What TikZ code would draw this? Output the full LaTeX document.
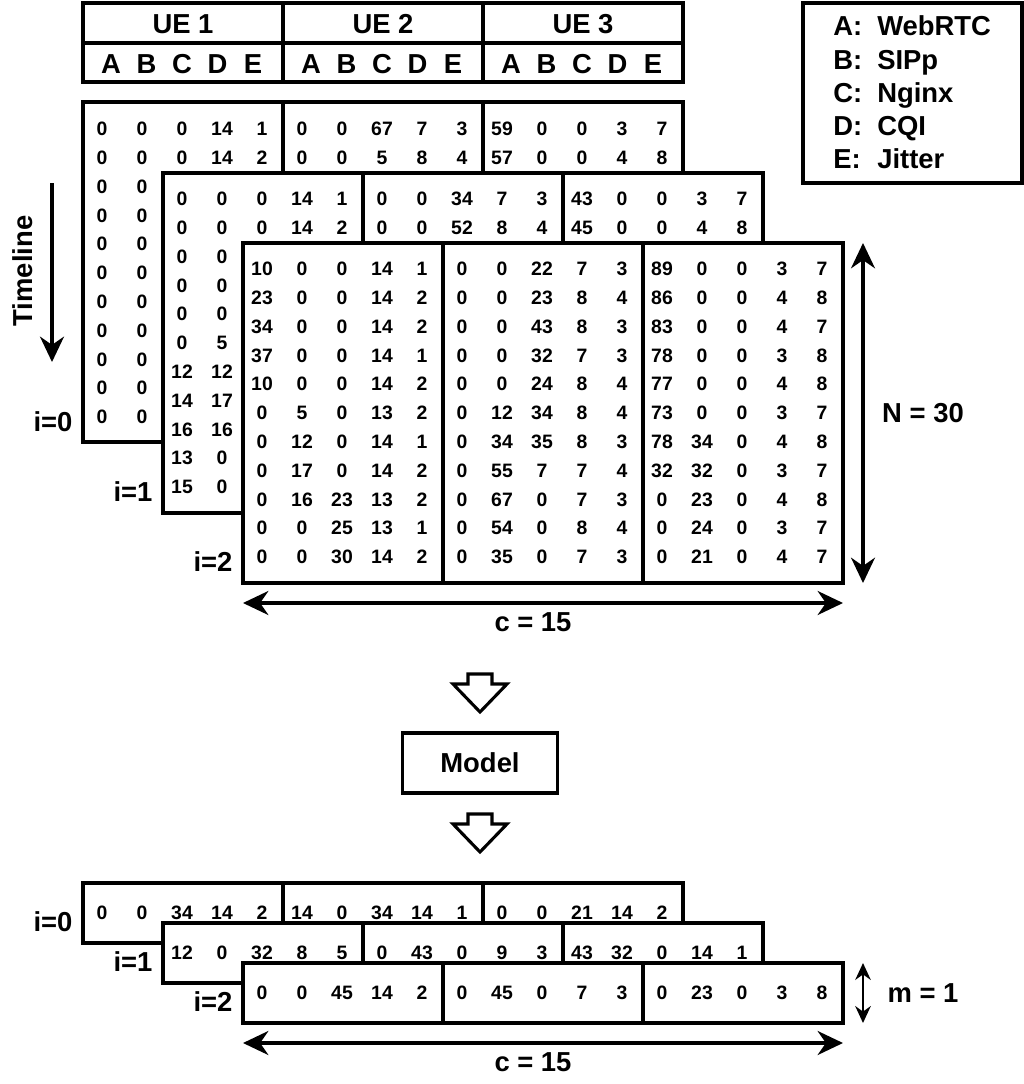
\documentclass[tikz,border=0pt]{standalone}
\usepackage{fontspec}
\setmainfont{Liberation Sans}
\usetikzlibrary{arrows.meta}

% rows of cell values, columns 40px apart
\newcommand\matrows[4]{%
  \foreach \rw [count=\ri] in {#4}
    \foreach \val [count=\ci] in \rw
      \node[num] (#1-\ri-\ci) at ({#2+40*(\ci-1)},{#3+28.8*(\ri-1)}) {\val};}
% white sheet split into the three UE blocks
\newcommand\sheet[3]{%
  \draw[box,fill=white] (#1,#2) rectangle ++(600,#3);
  \draw[box] ({#1+200},#2) -- ++(0,#3);
  \draw[box] ({#1+400},#2) -- ++(0,#3);}

\begin{document}
\begin{tikzpicture}[x=0.025cm,y=-0.025cm,
    box/.style={line width=2.8pt},
    num/.style={font=\fontsize{13.8}{16}\selectfont\bfseries,inner sep=0pt},
    lbl/.style={font=\fontsize{19.5}{23}\selectfont\bfseries},
    dim/.style={line width=2.6pt,{Stealth[length=18pt,width=17pt]}-{Stealth[length=18pt,width=17pt]}},
    hollowarrow/.pic={\draw[line width=2.2pt,fill=white] (-12,0) -- (12,0) -- (12,10) -- (27,10) -- (0,38) -- (-27,10) -- (-12,10) -- cycle;}]
  \useasboundingbox (0,0) rectangle (1024,1084);

  % header
  \sheet{83}{3}{79}
  \draw[box] (83,43) -- (683,43);
  \foreach \u in {1,2,3}
    \node[lbl] (ue\u) at ({183+200*(\u-1)},24) {UE \u};
  \foreach \u in {0,1,2}
    \foreach \l [count=\k] in {A,B,C,D,E}
      \node[lbl,inner sep=0pt] (h\u-\k) at ({111+200*\u+35.5*(\k-1)},64) {\l};

  % legend
  \draw[box] (803,3) rectangle (1022,183);
  \foreach \l/\t [count=\k] in {A/WebRTC,B/SIPp,C/Nginx,D/CQI,E/Jitter} {
    \node[lbl,anchor=base west,inner sep=0pt] (key\k) at (833,{36+33.2*(\k-1)}) {\l:};
    \node[lbl,anchor=base west,inner sep=0pt] (val\k) at (877,{36+33.2*(\k-1)}) {\t};
  }

  % input windows
  \sheet{83}{102}{340}
  \matrows{a}{102}{129}{{0,0,0,14,1,0,0,67,7,3,59,0,0,3,7},
    {0,0,0,14,2,0,0,5,8,4,57,0,0,4,8},
    {0,0},{0,0},{0,0},{0,0},{0,0},{0,0},{0,0},{0,0},{0,0}}
  \sheet{163}{173}{340}
  \matrows{b}{182}{199}{{0,0,0,14,1,0,0,34,7,3,43,0,0,3,7},
    {0,0,0,14,2,0,0,52,8,4,45,0,0,4,8},
    {0,0},{0,0},{0,0},{0,5},{12,12},{14,17},{16,16},{13,0},{15,0}}
  \sheet{243}{243}{340}
  \matrows{c}{262}{269}{{10,0,0,14,1,0,0,22,7,3,89,0,0,3,7},
    {23,0,0,14,2,0,0,23,8,4,86,0,0,4,8},
    {34,0,0,14,2,0,0,43,8,3,83,0,0,4,7},
    {37,0,0,14,1,0,0,32,7,3,78,0,0,3,8},
    {10,0,0,14,2,0,0,24,8,4,77,0,0,4,8},
    {0,5,0,13,2,0,12,34,8,4,73,0,0,3,7},
    {0,12,0,14,1,0,34,35,8,3,78,34,0,4,8},
    {0,17,0,14,2,0,55,7,7,4,32,32,0,3,7},
    {0,16,23,13,2,0,67,0,7,3,0,23,0,4,8},
    {0,0,25,13,1,0,54,0,8,4,0,24,0,3,7},
    {0,0,30,14,2,0,35,0,7,3,0,21,0,4,7}}
  \node[lbl] (i0) at (53,422) {i=0};
  \node[lbl] (i1) at (133,492) {i=1};
  \node[lbl] (i2) at (213,562) {i=2};

  % timeline and sizes
  \node[lbl,rotate=90] (tl) at (23,271) {Timeline};
  \coordinate (t0) at (52,183);
  \coordinate (t1) at (52,362);
  \draw[line width=2.6pt,-{Stealth[length=18pt,width=17pt]}] (t0) -- (t1);
  \coordinate (n0) at (863,243);
  \coordinate (n1) at (863,583);
  \draw[dim,line width=2.2pt] (n0) -- (n1);
  \node[lbl] (nlab) at (923,413) {N = 30};
  \coordinate (c0) at (243,603);
  \coordinate (c1) at (843,603);
  \draw[dim] (c0) -- (c1);
  \node[lbl] (clab) at (533,622) {c = 15};

  % model
  \pic (d1) at (480,674) {hollowarrow};
  \node[lbl,draw,line width=2.6pt,minimum width=3.875cm,minimum height=1.5cm] (model) at (480,763) {Model};
  \pic (d2) at (480,814) {hollowarrow};

  % outputs
  \sheet{83}{883}{60}
  \matrows{p}{102}{913}{{0,0,34,14,2,14,0,34,14,1,0,0,21,14,2}}
  \sheet{163}{923}{60}
  \matrows{q}{182}{953}{{12,0,32,8,5,0,43,0,9,3,43,32,0,14,1}}
  \sheet{243}{963}{60}
  \matrows{s}{262}{993}{{0,0,45,14,2,0,45,0,7,3,0,23,0,3,8}}
  \node[lbl] (o0) at (53,922) {i=0};
  \node[lbl] (o1) at (133,962) {i=1};
  \node[lbl] (o2) at (213,1002) {i=2};
  \coordinate (m0) at (863,963);
  \coordinate (m1) at (863,1023);
  \draw[line width=1.8pt,{Stealth[length=12pt,width=11pt]}-{Stealth[length=12pt,width=11pt]}] (m0) -- (m1);
  \node[lbl] (mlab) at (923,993) {m = 1};
  \coordinate (e0) at (243,1043);
  \coordinate (e1) at (843,1043);
  \draw[dim] (e0) -- (e1);
  \node[lbl] (elab) at (533,1062) {c = 15};
\end{tikzpicture}
\end{document}
